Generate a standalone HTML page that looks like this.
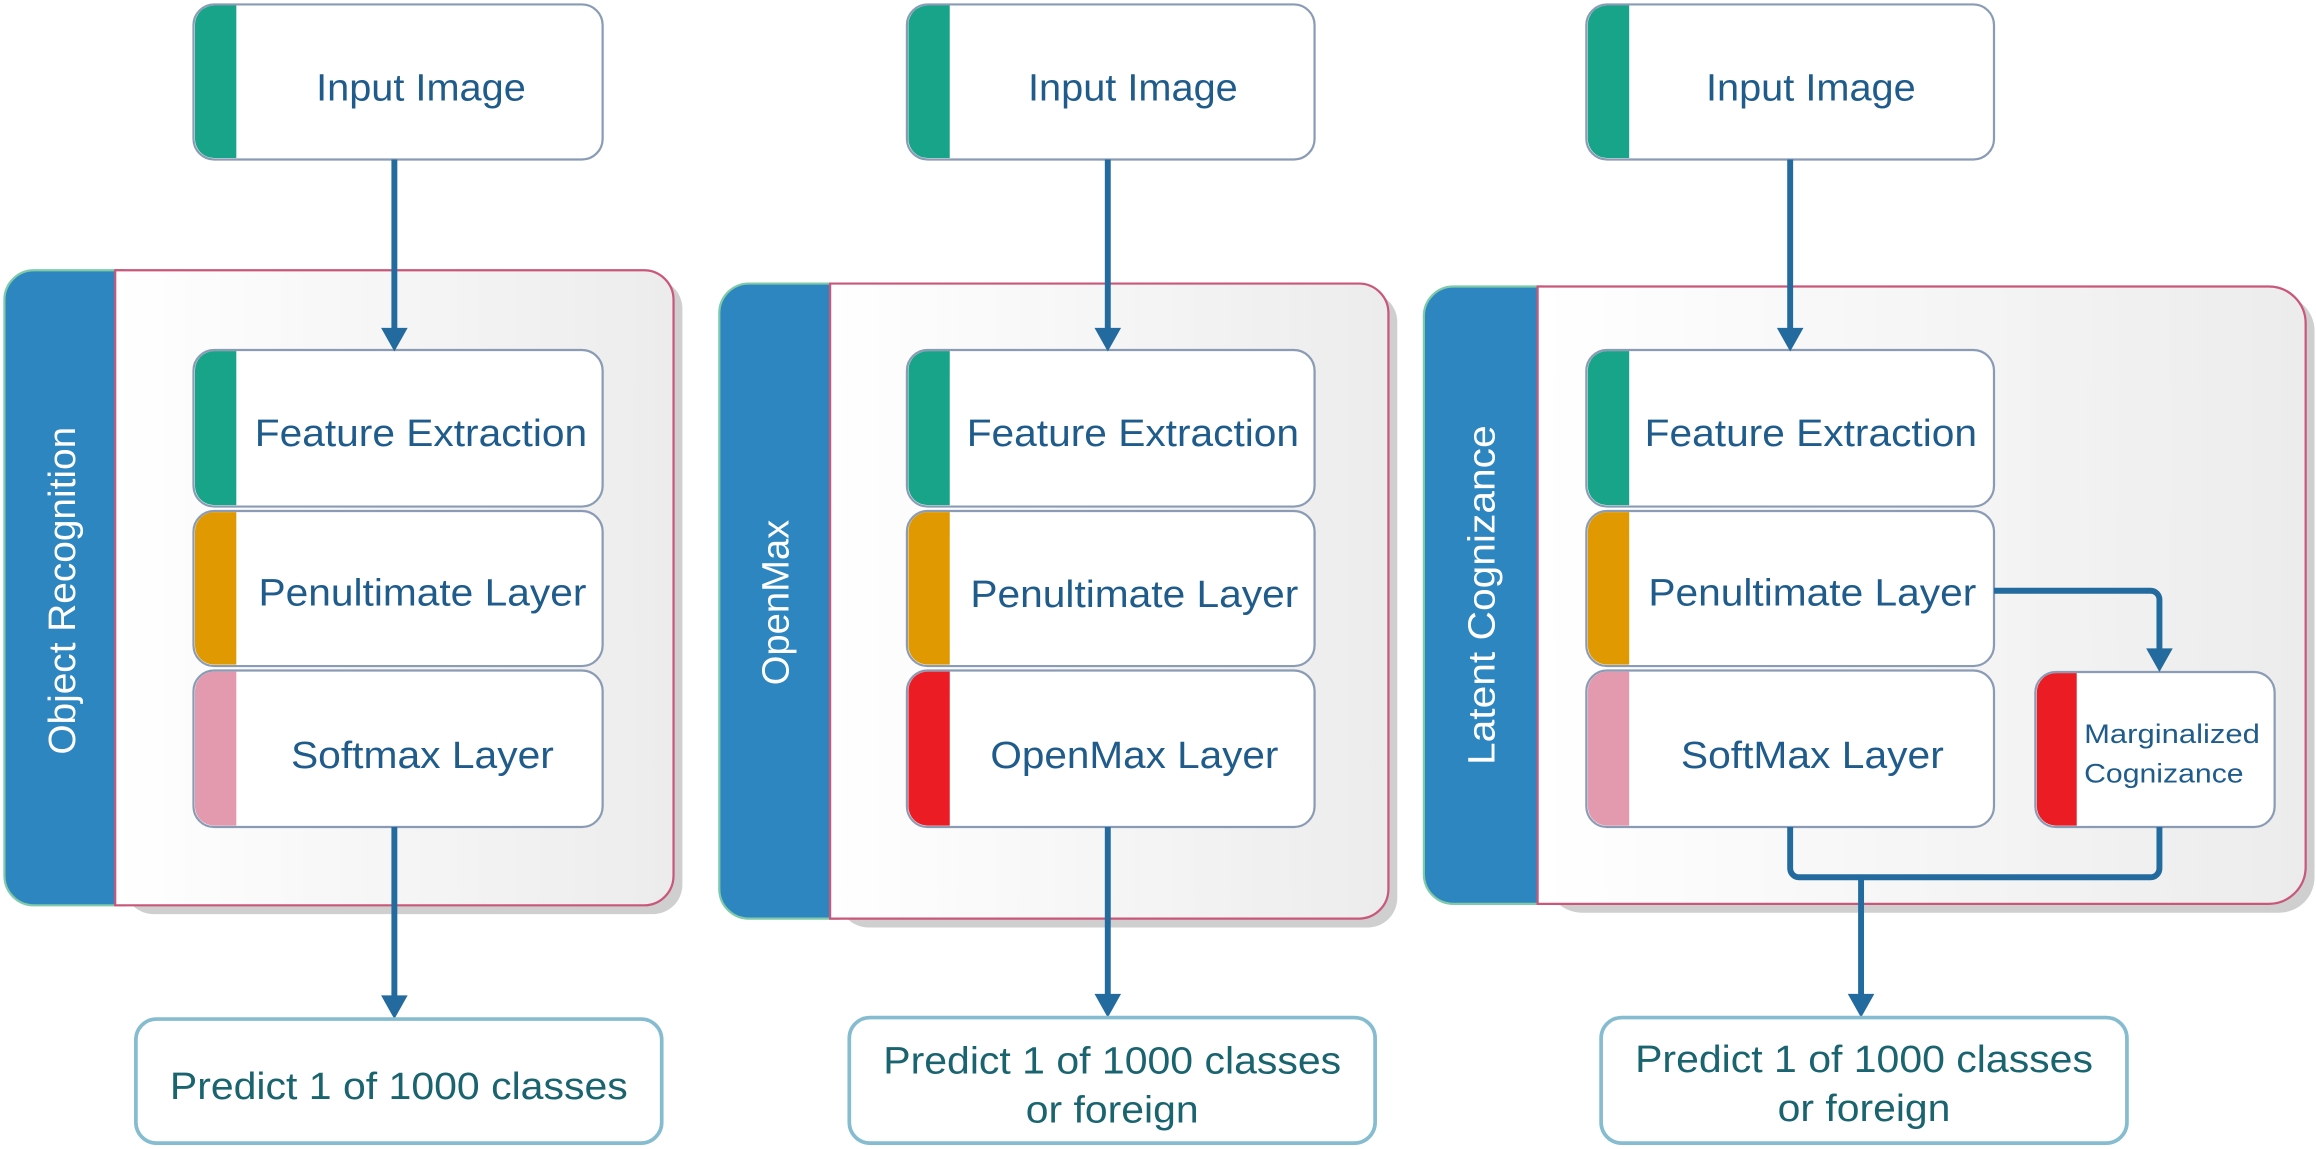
<!DOCTYPE html>
<html><head><meta charset="utf-8"><style>
html,body{margin:0;padding:0;background:#fff;}
svg{display:block;}
text{font-family:"Liberation Sans",sans-serif;}
</style></head><body>
<svg width="2316" height="1149" viewBox="0 0 1568 778" preserveAspectRatio="none" xmlns="http://www.w3.org/2000/svg">
<defs>
<linearGradient id="g" x1="0" y1="0" x2="1" y2="0"><stop offset="0" stop-color="#ffffff"/><stop offset="1" stop-color="#ececec"/></linearGradient>
</defs>

<g>
 <rect x="84" y="189" width="378" height="430" rx="20" fill="#cfcfcf"/>
 <rect x="3" y="183" width="100" height="430" rx="20" fill="#2e86c1" stroke="#7fcaa8" stroke-width="1.5"/>
 <path d="M78,183 H436 a20,20 0 0 1 20,20 V593 a20,20 0 0 1 -20,20 H78 Z" fill="url(#g)" stroke="#c9577a" stroke-width="1.5"/>
 <text transform="translate(44,400) rotate(-90)" text-anchor="middle" dominant-baseline="middle" fill="#fff" font-size="26" textLength="222" lengthAdjust="spacingAndGlyphs">Object Recognition</text>
 <rect x="568" y="198" width="378" height="430" rx="20" fill="#cfcfcf"/>
 <rect x="487" y="192" width="100" height="430" rx="20" fill="#2e86c1" stroke="#7fcaa8" stroke-width="1.5"/>
 <path d="M562,192 H920 a20,20 0 0 1 20,20 V602 a20,20 0 0 1 -20,20 H562 Z" fill="url(#g)" stroke="#c9577a" stroke-width="1.5"/>
 <text transform="translate(527,408) rotate(-90)" text-anchor="middle" dominant-baseline="middle" fill="#fff" font-size="26" textLength="112" lengthAdjust="spacingAndGlyphs">OpenMax</text>
 <rect x="1047" y="200" width="520" height="418" rx="24" fill="#cfcfcf"/>
 <rect x="964" y="194" width="100" height="418" rx="20" fill="#2e86c1" stroke="#7fcaa8" stroke-width="1.5"/>
 <path d="M1041,194 H1536 a25,25 0 0 1 25,25 V587 a25,25 0 0 1 -25,25 H1041 Z" fill="url(#g)" stroke="#c9577a" stroke-width="1.5"/>
 <text transform="translate(1005,403) rotate(-90)" text-anchor="middle" dominant-baseline="middle" fill="#fff" font-size="26" textLength="230" lengthAdjust="spacingAndGlyphs">Latent Cognizance</text>
</g>

<g font-size="26" fill="#1f5c8c">
 <g>
  <rect x="131" y="3" width="277" height="105" rx="14" fill="#fff" stroke="#8a9bb5" stroke-width="1.5"/>
  <path d="M160,3.75 H145 a13,13 0 0 0 -13,13 V94 a13,13 0 0 0 13,13 H160 Z" fill="#17a489"/>
  <text x="285" y="68" text-anchor="middle" textLength="142" lengthAdjust="spacingAndGlyphs">Input Image</text>

  <rect x="131" y="237" width="277" height="106" rx="14" fill="#fff" stroke="#8a9bb5" stroke-width="1.5"/>
  <path d="M160,237.75 H145 a13,13 0 0 0 -13,13 V329 a13,13 0 0 0 13,13 H160 Z" fill="#17a489"/>
  <text x="285" y="302" text-anchor="middle" textLength="225" lengthAdjust="spacingAndGlyphs">Feature Extraction</text>

  <rect x="131" y="346" width="277" height="105" rx="14" fill="#fff" stroke="#8a9bb5" stroke-width="1.5"/>
  <path d="M160,346.75 H145 a13,13 0 0 0 -13,13 V437 a13,13 0 0 0 13,13 H160 Z" fill="#e09a00"/>
  <text x="286" y="410" text-anchor="middle" textLength="222" lengthAdjust="spacingAndGlyphs">Penultimate Layer</text>

  <rect x="131" y="454" width="277" height="106" rx="14" fill="#fff" stroke="#8a9bb5" stroke-width="1.5"/>
  <path d="M160,454.75 H145 a13,13 0 0 0 -13,13 V546 a13,13 0 0 0 13,13 H160 Z" fill="#e39aae"/>
  <text x="286" y="520" text-anchor="middle" textLength="178" lengthAdjust="spacingAndGlyphs">Softmax Layer</text>
 </g>
 <g>
  <rect x="614" y="3" width="276" height="105" rx="14" fill="#fff" stroke="#8a9bb5" stroke-width="1.5"/>
  <path d="M643,3.75 H628 a13,13 0 0 0 -13,13 V94 a13,13 0 0 0 13,13 H643 Z" fill="#17a489"/>
  <text x="767" y="68" text-anchor="middle" textLength="142" lengthAdjust="spacingAndGlyphs">Input Image</text>

  <rect x="614" y="237" width="276" height="106" rx="14" fill="#fff" stroke="#8a9bb5" stroke-width="1.5"/>
  <path d="M643,237.75 H628 a13,13 0 0 0 -13,13 V329 a13,13 0 0 0 13,13 H643 Z" fill="#17a489"/>
  <text x="767" y="302" text-anchor="middle" textLength="225" lengthAdjust="spacingAndGlyphs">Feature Extraction</text>

  <rect x="614" y="346" width="276" height="105" rx="14" fill="#fff" stroke="#8a9bb5" stroke-width="1.5"/>
  <path d="M643,346.75 H628 a13,13 0 0 0 -13,13 V437 a13,13 0 0 0 13,13 H643 Z" fill="#e09a00"/>
  <text x="768" y="411" text-anchor="middle" textLength="222" lengthAdjust="spacingAndGlyphs">Penultimate Layer</text>

  <rect x="614" y="454" width="276" height="106" rx="14" fill="#fff" stroke="#8a9bb5" stroke-width="1.5"/>
  <path d="M643,454.75 H628 a13,13 0 0 0 -13,13 V546 a13,13 0 0 0 13,13 H643 Z" fill="#ec1c24"/>
  <text x="768" y="520" text-anchor="middle" textLength="195" lengthAdjust="spacingAndGlyphs">OpenMax Layer</text>
 </g>
 <g>
  <rect x="1074" y="3" width="276" height="105" rx="14" fill="#fff" stroke="#8a9bb5" stroke-width="1.5"/>
  <path d="M1103,3.75 H1088 a13,13 0 0 0 -13,13 V94 a13,13 0 0 0 13,13 H1103 Z" fill="#17a489"/>
  <text x="1226" y="68" text-anchor="middle" textLength="142" lengthAdjust="spacingAndGlyphs">Input Image</text>

  <rect x="1074" y="237" width="276" height="106" rx="14" fill="#fff" stroke="#8a9bb5" stroke-width="1.5"/>
  <path d="M1103,237.75 H1088 a13,13 0 0 0 -13,13 V329 a13,13 0 0 0 13,13 H1103 Z" fill="#17a489"/>
  <text x="1226" y="302" text-anchor="middle" textLength="225" lengthAdjust="spacingAndGlyphs">Feature Extraction</text>

  <rect x="1074" y="346" width="276" height="105" rx="14" fill="#fff" stroke="#8a9bb5" stroke-width="1.5"/>
  <path d="M1103,346.75 H1088 a13,13 0 0 0 -13,13 V437 a13,13 0 0 0 13,13 H1103 Z" fill="#e09a00"/>
  <text x="1227" y="410" text-anchor="middle" textLength="222" lengthAdjust="spacingAndGlyphs">Penultimate Layer</text>

  <rect x="1074" y="454" width="276" height="106" rx="14" fill="#fff" stroke="#8a9bb5" stroke-width="1.5"/>
  <path d="M1103,454.75 H1088 a13,13 0 0 0 -13,13 V546 a13,13 0 0 0 13,13 H1103 Z" fill="#e39aae"/>
  <text x="1227" y="520" text-anchor="middle" textLength="178" lengthAdjust="spacingAndGlyphs">SoftMax Layer</text>

  <rect x="1378" y="455" width="162" height="105" rx="14" fill="#fff" stroke="#8a9bb5" stroke-width="1.5"/>
  <path d="M1406,455.75 H1392 a13,13 0 0 0 -13,13 V546 a13,13 0 0 0 13,13 H1406 Z" fill="#ec1c24"/>
  <text x="1411" y="503" font-size="18" textLength="119" lengthAdjust="spacingAndGlyphs">Marginalized</text>
  <text x="1411" y="530" font-size="18" textLength="108" lengthAdjust="spacingAndGlyphs">Cognizance</text>
 </g>
</g>

<g stroke="#236a9e" stroke-width="4" fill="none">
 <line x1="267" y1="108" x2="267" y2="226"/>
 <line x1="267" y1="560" x2="267" y2="679"/>
 <line x1="750" y1="108" x2="750" y2="226"/>
 <line x1="750" y1="560" x2="750" y2="678"/>
 <line x1="1212" y1="108" x2="1212" y2="226"/>
 <path d="M1350,400 H1456 a6,6 0 0 1 6,6 V444"/>
 <path d="M1212,560 V588 a6,6 0 0 0 6,6 H1456 a6,6 0 0 0 6,-6 V560"/>
 <line x1="1260" y1="594" x2="1260" y2="678"/>
</g>
<g fill="#236a9e">
 <path d="M258,222 L276,222 L267,238 Z"/>
 <path d="M258,674 L276,674 L267,690 Z"/>
 <path d="M741,222 L759,222 L750,238 Z"/>
 <path d="M741,673 L759,673 L750,689 Z"/>
 <path d="M1203,222 L1221,222 L1212,238 Z"/>
 <path d="M1453,439 L1471,439 L1462,455 Z"/>
 <path d="M1251,673 L1269,673 L1260,689 Z"/>
</g>

<g font-size="26" fill="#1a6470">
 <rect x="92" y="690" width="356" height="84" rx="14" fill="#fff" stroke="#85bccf" stroke-width="2.5"/>
 <text x="270" y="744" text-anchor="middle" textLength="310" lengthAdjust="spacingAndGlyphs">Predict 1 of 1000 classes</text>
 <rect x="575" y="689" width="356" height="85" rx="14" fill="#fff" stroke="#85bccf" stroke-width="2.5"/>
 <text x="753" y="727" text-anchor="middle" textLength="310" lengthAdjust="spacingAndGlyphs">Predict 1 of 1000 classes</text>
 <text x="753" y="760" text-anchor="middle" textLength="117" lengthAdjust="spacingAndGlyphs">or foreign</text>
 <rect x="1084" y="689" width="356" height="85" rx="14" fill="#fff" stroke="#85bccf" stroke-width="2.5"/>
 <text x="1262" y="726" text-anchor="middle" textLength="310" lengthAdjust="spacingAndGlyphs">Predict 1 of 1000 classes</text>
 <text x="1262" y="759" text-anchor="middle" textLength="117" lengthAdjust="spacingAndGlyphs">or foreign</text>
</g>
</svg>
</body></html>
